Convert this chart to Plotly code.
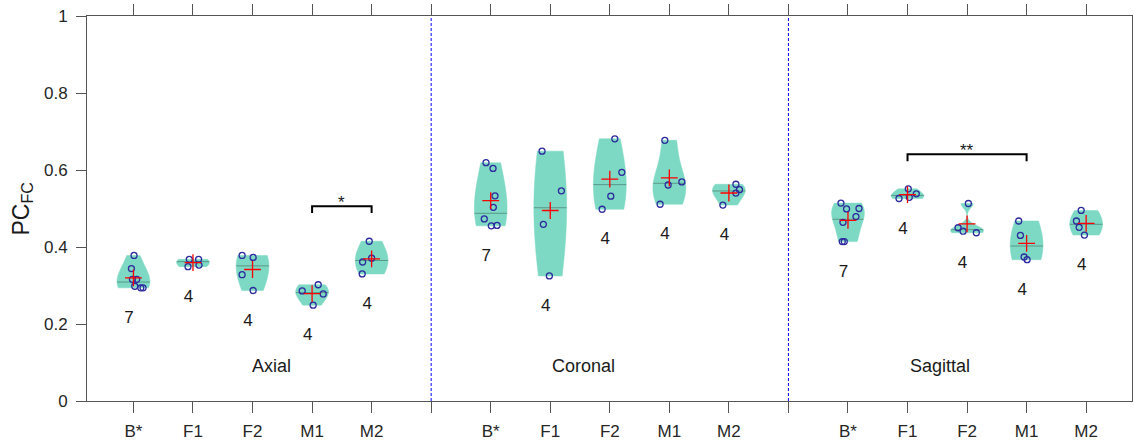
import numpy as np
import plotly.graph_objects as go

# ---------------- data ----------------
groups = ["Axial", "Coronal", "Sagittal"]
conditions = ["B*", "F1", "F2", "M1", "M2"]

# individual PC_FC values per condition
axial_B = [0.378, 0.344, 0.316, 0.316, 0.298, 0.294, 0.294]
axial_F1 = [0.368, 0.368, 0.349, 0.353]
axial_F2 = [0.378, 0.373, 0.328, 0.287]
axial_M1 = [0.286, 0.302, 0.278, 0.249]
axial_M2 = [0.415, 0.361, 0.371, 0.330]

coronal_B = [0.619, 0.604, 0.533, 0.503, 0.473, 0.455, 0.456]
coronal_F1 = [0.649, 0.546, 0.459, 0.325]
coronal_F2 = [0.681, 0.594, 0.532, 0.498]
coronal_M1 = [0.677, 0.569, 0.561, 0.511]
coronal_M2 = [0.563, 0.549, 0.540, 0.509]

sagittal_B = [0.514, 0.499, 0.500, 0.479, 0.464, 0.414, 0.414]
sagittal_F1 = [0.551, 0.526, 0.529, 0.538]
sagittal_F2 = [0.513, 0.450, 0.441, 0.437]
sagittal_M1 = [0.4675, 0.430, 0.374, 0.367]
sagittal_M2 = [0.495, 0.4675, 0.451, 0.431]

# horizontal jitter of the scatter points (x units)
jit_axial_B = [0.010, -0.034, -0.017, 0.055, 0.022, 0.123, 0.161]
jit_axial_F1 = [-0.062, 0.094, -0.084, 0.101]
jit_axial_F2 = [-0.175, 0.010, -0.175, 0.010]
jit_axial_M1 = [-0.166, 0.103, 0.187, 0.018]
jit_axial_M2 = [-0.040, -0.151, 0.000, -0.158]
jit_coronal_B = [-0.079, 0.039, 0.072, 0.044, -0.108, 0.010, 0.106]
jit_coronal_F1 = [-0.138, 0.187, -0.116, -0.015]
jit_coronal_F2 = [0.084, 0.202, 0.017, -0.129]
jit_coronal_M1 = [-0.076, 0.210, -0.020, -0.155]
jit_coronal_M2 = [0.118, 0.178, 0.118, -0.101]
jit_sagittal_B = [-0.118, -0.024, 0.185, 0.134, -0.084, -0.096, -0.062]
jit_sagittal_F1 = [0.013, -0.143, 0.030, 0.148]
jit_sagittal_F2 = [0.022, -0.151, -0.067, 0.156]
jit_sagittal_M1 = [-0.133, -0.104, -0.042, 0.008]
jit_sagittal_M2 = [-0.084, -0.163, -0.118, -0.029]

# median lines as drawn in the reference
medians_axial = [0.309, 0.362, 0.351, 0.2815, 0.365]
medians_coronal = [0.4875, 0.502, 0.562, 0.5655, 0.5455]
medians_sagittal = [0.472, 0.534, 0.445, 0.4026, 0.459]

# significance brackets: (x1, x2, height, label)
sig_x1 = [4, 14]
sig_x2 = [5, 16]
sig_y = [0.506, 0.641]
sig_text = ["*", "**"]

ytick_vals = [0, 0.2, 0.4, 0.6, 0.8, 1]
ytick_text = ["0", "0.2", "0.4", "0.6", "0.8", "1"]

# ---------------- assemble ----------------
values = [axial_B, axial_F1, axial_F2, axial_M1, axial_M2,
          coronal_B, coronal_F1, coronal_F2, coronal_M1, coronal_M2,
          sagittal_B, sagittal_F1, sagittal_F2, sagittal_M1, sagittal_M2]
jitters = [jit_axial_B, jit_axial_F1, jit_axial_F2, jit_axial_M1, jit_axial_M2,
           jit_coronal_B, jit_coronal_F1, jit_coronal_F2, jit_coronal_M1, jit_coronal_M2,
           jit_sagittal_B, jit_sagittal_F1, jit_sagittal_F2, jit_sagittal_M1, jit_sagittal_M2]
medians = medians_axial + medians_coronal + medians_sagittal

positions = []
ticktext = []
for g in range(len(groups)):
    for c in range(len(conditions)):
        positions.append(g * (len(conditions) + 1) + c + 1)
        ticktext.append(conditions[c])
separators = [(g + 1) * (len(conditions) + 1) for g in range(len(groups) - 1)]

VW = 0.55  # violin full width (x units)
BW_FACTOR = 1.5
FILL = "#7dd9c3"
FONT = "Liberation Sans, Arial, Helvetica, sans-serif"
TXT = "#1a1a1a"


def kde_bw(v):
    v = np.asarray(v, float)
    med = np.median(v)
    sig = np.median(np.abs(v - med)) / 0.6745
    if sig <= 0:
        sig = np.std(v) if np.std(v) > 0 else 0.01
    return BW_FACTOR * sig * (4.0 / (3.0 * len(v))) ** 0.2


def kde(v, bw, grid):
    v = np.asarray(v, float)
    return np.exp(-0.5 * ((grid[:, None] - v[None, :]) / bw) ** 2).sum(axis=1)


fig = go.Figure()

# violins
for pos, v in zip(positions, values):
    fig.add_trace(go.Violin(
        x=[pos] * len(v), y=v, width=VW, spanmode="hard", bandwidth=kde_bw(v),
        scalemode="width", points=False, fillcolor=FILL,
        line=dict(color=FILL, width=0.5), box=dict(visible=False),
        meanline=dict(visible=False), hoverinfo="skip", showlegend=False))

# median lines
mx, my = [], []
for pos, v, med in zip(positions, values, medians):
    bw = kde_bw(v)
    grid = np.linspace(min(v), max(v), 300)
    dmax = kde(v, bw, grid).max()
    half = VW / 2 * kde(v, bw, np.array([med]))[0] / dmax
    mx += [pos - half, pos + half, None]
    my += [med, med, None]
fig.add_trace(go.Scatter(x=mx, y=my, mode="lines",
                         line=dict(color="rgba(80,135,120,0.8)", width=1),
                         hoverinfo="skip", showlegend=False))

# scatter points
px_, py_ = [], []
for pos, v, j in zip(positions, values, jitters):
    px_ += [pos + o for o in j]
    py_ += list(v)
fig.add_trace(go.Scatter(x=px_, y=py_, mode="markers",
                         marker=dict(symbol="circle-open", size=6, color="#2d2a9e",
                                     line=dict(width=1.3, color="#2d2a9e")),
                         hoverinfo="skip", showlegend=False))

# means
fig.add_trace(go.Scatter(x=positions, y=[float(np.mean(v)) for v in values], mode="markers",
                         marker=dict(symbol="cross-thin", size=12,
                                     line=dict(width=1.3, color="#ff0000")),
                         hoverinfo="skip", showlegend=False))

# sample-size labels
fig.add_trace(go.Scatter(x=[p - 0.075 for p in positions],
                         y=[min(v) - 0.08 for v in values],
                         mode="text", text=[str(len(v)) for v in values],
                         textfont=dict(family=FONT, size=17, color=TXT),
                         hoverinfo="skip", showlegend=False))

# significance brackets
bx, by = [], []
for x1, x2, yy in zip(sig_x1, sig_x2, sig_y):
    bx += [x1, x1, x2, x2, None]
    by += [yy - 0.018, yy, yy, yy - 0.018, None]
fig.add_trace(go.Scatter(x=bx, y=by, mode="lines", line=dict(color="black", width=2),
                         hoverinfo="skip", showlegend=False))
for x1, x2, yy, t in zip(sig_x1, sig_x2, sig_y, sig_text):
    fig.add_annotation(x=(x1 + x2) / 2, y=yy, text=t, showarrow=False,
                       yanchor="bottom", yshift=-8,
                       font=dict(family=FONT, size=17, color=TXT))

# group labels
group_label_x = [3.32, 8.55, 14.55]
for gx, gname in zip(group_label_x, groups):
    fig.add_annotation(x=gx, y=0.092, text=gname, showarrow=False,
                       font=dict(family=FONT, size=18, color=TXT))

# separators
for s in separators:
    fig.add_shape(type="line", x0=s, x1=s, y0=0, y1=1, xref="x", yref="y",
                  line=dict(color="#0000ff", width=1, dash="3px,2px"))

# y title
fig.add_annotation(xref="paper", yref="paper", x=0, y=0.5, xshift=-65,
                   xanchor="center", yanchor="middle",
                   text="PC<sub>FC</sub>", textangle=-90, showarrow=False,
                   font=dict(family=FONT, size=23, color=TXT))

axis_common = dict(showline=True, linecolor="#555555", linewidth=1, ticks="outside",
                   tickcolor="#555555", tickwidth=1, showgrid=False, zeroline=False,
                   tickfont=dict(family=FONT, size=17, color="#262626"))
fig.update_layout(
    width=1134, height=440,
    margin=dict(l=87, r=2, t=16, b=39, autoexpand=False),
    paper_bgcolor="white", plot_bgcolor="white",
    violinmode="overlay", showlegend=False,
    font=dict(family=FONT, size=17, color="#262626"),
    xaxis=dict(range=[0.22, 17.77], tickmode="array", tickvals=positions, ticktext=ticktext,
               ticklen=11, mirror="ticks", ticklabelstandoff=4,
               minor=dict(tickmode="array", tickvals=separators, ticks="outside",
                          ticklen=11, tickcolor="#555555", tickwidth=1, showgrid=False),
               **axis_common),
    yaxis=dict(range=[0, 1], tickmode="array", tickvals=ytick_vals, ticktext=ytick_text,
               ticklen=10, mirror=True, ticklabelstandoff=5, **axis_common),
)

fig.write_html("out.html")
